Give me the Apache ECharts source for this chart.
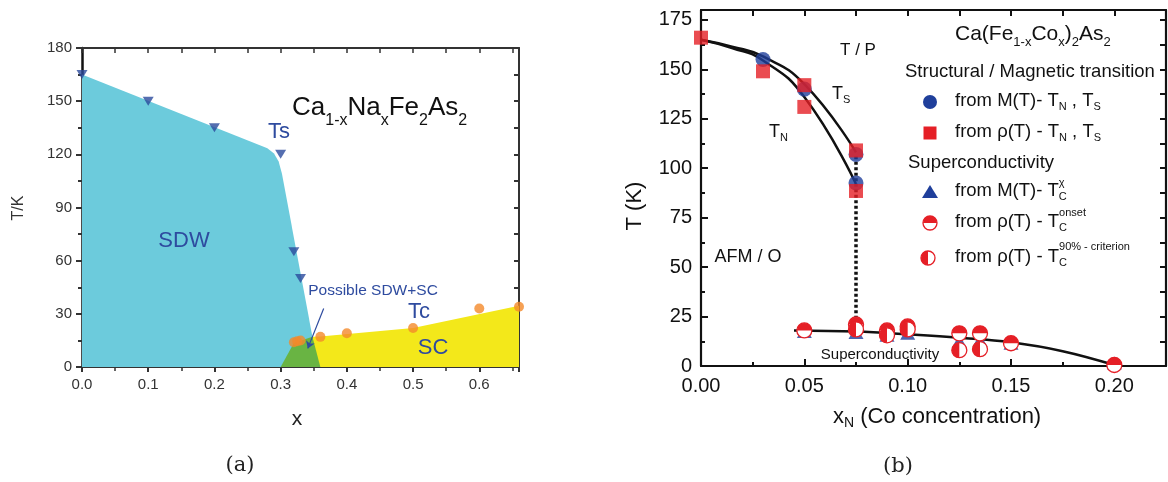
<!DOCTYPE html>
<html><head><meta charset="utf-8">
<script src="https://cdn.jsdelivr.net/npm/echarts@6/dist/echarts.min.js"></script>
<style>html,body{margin:0;padding:0;background:#fff}#c{width:1168px;height:482px}</style>
</head><body><div id="c"></div><script>
// ---------- Panel (a): Ca1-xNaxFe2As2 ----------
const aTsX = [0, 0.1, 0.2, 0.3, 0.32, 0.33];
const aTsT = [165, 150, 135, 120, 65, 50];
const aTcX = [0.32, 0.325, 0.33, 0.36, 0.4, 0.5, 0.6, 0.66];
const aTcT = [14, 14.5, 15, 17, 19, 22, 33, 34];
const aSdwX = [0, 0.28, 0.29, 0.297, 0.302, 0.348];
const aSdwT = [165, 123.5, 120.5, 116, 109, 17];
const aScX = [0.348, 0.36, 0.5, 0.66];
const aScT = [17, 17.2, 22, 34.5];
const aMixX = [0.30, 0.32, 0.348, 0.36];
const aMixT = [0, 13.5, 17, 0];
const aArrowFrom = [0.365, 33];
const aArrowTo = [0.341, 10.5];
const aXTicks = [0, 0.1, 0.2, 0.3, 0.4, 0.5, 0.6];
const aYTicks = [0, 30, 60, 90, 120, 150, 180];

// ---------- Panel (b): Ca(Fe1-xCox)2As2 ----------
const bMagX = [0.03, 0.05, 0.075, 0.075];
const bMagT = [155, 140, 107, 92.5];
const bResX = [0, 0.03, 0.05, 0.05, 0.075, 0.075];
const bResT = [166, 149, 142, 131, 109, 88.5];
const bTsCurveX = [0, 0.015, 0.03, 0.05, 0.075];
const bTsCurveT = [165, 161.5, 156.5, 142.5, 108];
const bTnCurveX = [0, 0.015, 0.03, 0.05, 0.075];
const bTnCurveT = [165, 160.8, 154.5, 136, 92];
const bDotX = [0.075, 0.075];
const bDotT = [106, 24];
const bScCurveX = [0.045, 0.075, 0.1, 0.125, 0.15, 0.175, 0.2];
const bScCurveT = [18, 17.4, 16, 14.3, 12, 7.5, 0.5];
const bTcChiX = [0.05, 0.075, 0.09, 0.1, 0.125, 0.135, 0.15, 0.2];
const bTcChiT = [17.5, 17, 15.5, 16.5, 12.5, 13, 11.5, 1.5];
const bTcOnX = [0.05, 0.075, 0.09, 0.1, 0.125, 0.135, 0.15, 0.2];
const bTcOnT = [18, 21, 18, 20, 16.5, 16.5, 11.5, 0.5];
const bTc90X = [0.075, 0.09, 0.1, 0.125, 0.135];
const bTc90T = [18.5, 15.5, 18.5, 8, 8.5];
const bXTicks = [0, 0.05, 0.1, 0.15, 0.2];
const bYTicks = [0, 25, 50, 75, 100, 125, 150, 175];

const zip = (xs, ys) => xs.map((x, i) => [x, ys[i]]);
const SANS = '"Liberation Sans", Arial, sans-serif';
const SERIF = '"DejaVu Serif", serif';
const CYAN = '#6ccbdc', YEL = '#f3e81a', GRN = '#69b443', TBLUE = '#2e4b9f', ORG = '#f4892a';
const RED = '#e51f26', BLUE = '#1f3f9b', INK = '#111';

const chart = echarts.init(document.getElementById('c'), null, {renderer: 'canvas'});

const ctx = document.createElement('canvas').getContext('2d');
function tw(s, size) { ctx.font = size + 'px "Liberation Sans"'; return ctx.measureText(s).width; }

function txt(x, y, text, size, color, o = {}) {
  return {
    type: 'text', x, y, rotation: o.rot || 0, silent: true, z: 100,
    style: {
      text, fontSize: size, fontFamily: o.family || SANS, fill: color,
      align: o.align || 'center', verticalAlign: o.va || 'middle',
      textAlign: o.align || 'center', textVerticalAlign: o.va || 'middle',
      rich: o.rich
    }
  };
}
function subRich(main, sub, color, subPad) {
  return {
    m: {fontSize: main, fontFamily: SANS, fill: color, color, lineHeight: main + 3, verticalAlign: 'top'},
    s: {fontSize: sub, fontFamily: SANS, fill: color, color, lineHeight: sub, verticalAlign: 'top', padding: [subPad, 0, 0, 0]}
  };
}

function halfRender(startA, endA, r) {
  return function (params, api) {
    const p = api.coord([api.value(0), api.value(1)]);
    return {type: 'group', children: [
      {type: 'circle', shape: {cx: p[0], cy: p[1], r}, style: {fill: '#fff', stroke: RED, lineWidth: 1.3}},
      {type: 'sector', shape: {cx: p[0], cy: p[1], r0: 0, r: r, startAngle: startA, endAngle: endA, clockwise: true}, style: {fill: RED}}
    ]};
  };
}

const legendX = 930, legTextX = 955;
const rowY = [102, 133, 192, 223, 258];
const LS = 18.5;
const graphics = [
  // panel (a) texts
  txt(19, 208, 'T/K', 16, '#333', {rot: Math.PI / 2}),
  txt(297, 419, 'x', 21, '#222'),
  txt(292, 109, '{m|Ca}{s|1-x}{m|Na}{s|x}{m|Fe}{s|2}{m|As}{s|2}', 26, INK,
      {align: 'left', rich: subRich(26, 16, INK, 18)}),
  txt(279, 132, 'Ts', 22, TBLUE),
  txt(184, 241, 'SDW', 22, TBLUE),
  txt(419, 312, 'Tc', 22, TBLUE),
  txt(433, 348, 'SC', 22, TBLUE),
  txt(373, 291, 'Possible SDW+SC', 15.5, TBLUE),
  txt(240, 466, '(a)', 21, '#222', {family: SERIF}),
  // panel (b) axis titles
  txt(635, 206, 'T (K)', 22, INK, {rot: Math.PI / 2}),
  txt(833, 418, '{m|x}{s|N}{m| (Co concentration)}', 22, INK, {align: 'left', rich: subRich(22, 14, INK, 11)}),
  txt(898, 467, '(b)', 21, '#222', {family: SERIF}),
  // panel (b) in-plot labels
  txt(858, 50, 'T / P', 17, INK),
  txt(832, 96, '{m|T}{s|S}', 18, INK, {align: 'left', rich: subRich(18, 11, INK, 9)}),
  txt(769, 134, '{m|T}{s|N}', 18, INK, {align: 'left', rich: subRich(18, 11, INK, 9)}),
  txt(748, 257, 'AFM / O', 18, INK),
  txt(880, 355, 'Superconductivity', 15, INK),
  // panel (b) legend block
  txt(955, 36, '{m|Ca(Fe}{s|1-x}{m|Co}{s|x}{m|)}{s|2}{m|As}{s|2}', 21, INK, {align: 'left', rich: subRich(21, 13, INK, 12)}),
  txt(905, 72, 'Structural / Magnetic transition', 18.5, INK, {align: 'left'}),
  txt(908, 163, 'Superconductivity', 18.5, INK, {align: 'left'}),
  {type: 'circle', shape: {cx: legendX, cy: rowY[0], r: 7}, style: {fill: BLUE}, silent: true},
  {type: 'rect', shape: {x: legendX - 6.5, y: rowY[1] - 6.5, width: 13, height: 13}, style: {fill: RED}, silent: true},
  {type: 'polygon', shape: {points: [[legendX, rowY[2] - 7], [legendX + 8, rowY[2] + 6], [legendX - 8, rowY[2] + 6]]}, style: {fill: BLUE}, silent: true},
  {type: 'circle', shape: {cx: legendX, cy: rowY[3], r: 7}, style: {fill: '#fff', stroke: RED, lineWidth: 1.3}, silent: true},
  {type: 'sector', shape: {cx: legendX, cy: rowY[3], r0: 0, r: 7, startAngle: Math.PI, endAngle: 2 * Math.PI}, style: {fill: RED}, silent: true},
  {type: 'circle', shape: {cx: legendX - 2, cy: rowY[4], r: 7}, style: {fill: '#fff', stroke: RED, lineWidth: 1.3}, silent: true},
  {type: 'sector', shape: {cx: legendX - 2, cy: rowY[4], r0: 0, r: 7, startAngle: Math.PI / 2, endAngle: 3 * Math.PI / 2}, style: {fill: RED}, silent: true},
  txt(legTextX, rowY[0], '{m|from M(T)- T}{s|N}{m| , T}{s|S}', LS, INK, {align: 'left', rich: subRich(LS, 11, INK, 10)}),
  txt(legTextX, rowY[1], '{m|from ρ(T) - T}{s|N}{m| , T}{s|S}', LS, INK, {align: 'left', rich: subRich(LS, 11, INK, 10)}),
  txt(legTextX, rowY[2], '{m|from M(T)- T}{s|C}', LS, INK, {align: 'left', rich: subRich(LS, 11, INK, 10)}),
  txt(legTextX, rowY[3], '{m|from ρ(T) - T}{s|C}', LS, INK, {align: 'left', rich: subRich(LS, 11, INK, 10)}),
  txt(legTextX, rowY[4], '{m|from ρ(T) - T}{s|C}', LS, INK, {align: 'left', rich: subRich(LS, 11, INK, 10)}),
  txt(legTextX + tw('from M(T)- T', LS), rowY[2] - 9, 'χ', 11, INK, {align: 'left'}),
  txt(legTextX + tw('from ρ(T) - T', LS), rowY[3] - 10, 'onset', 11, INK, {align: 'left'}),
  txt(legTextX + tw('from ρ(T) - T', LS), rowY[4] - 11, '90% - criterion', 11, INK, {align: 'left'})
];

const axLine = (w, c) => ({show: true, onZero: false, lineStyle: {color: c, width: w}});
const option = {
  animation: false,
  backgroundColor: '#fff',
  grid: [
    {left: 82, top: 48, width: 437, height: 319},
    {left: 701, top: 10, width: 465, height: 356}
  ],
  xAxis: [
    {type: 'value', gridIndex: 0, min: 0, max: 0.66, interval: 0.1, position: 'bottom',
     axisLine: axLine(2, '#333'), axisTick: {show: true, length: 5, lineStyle: {width: 2, color: '#333'}},
     minorTick: {show: true, splitNumber: 2, length: 4, lineStyle: {width: 1.5, color: '#333'}},
     axisLabel: {showMaxLabel: false, fontSize: 15, color: '#333', fontFamily: SANS, margin: 10,
       formatter: v => aXTicks.some(t => Math.abs(t - v) < 1e-9) ? v.toFixed(1) : ''},
     splitLine: {show: false}},
    {type: 'value', gridIndex: 0, min: 0, max: 0.66, interval: 0.05, position: 'top',
     axisLine: axLine(2, '#333'), axisTick: {show: true, inside: true, length: 5, lineStyle: {width: 1.5, color: '#333'}},
     axisLabel: {show: false}, splitLine: {show: false}},
    {type: 'value', gridIndex: 1, min: 0, max: 0.225, interval: 0.05, position: 'bottom',
     axisLine: axLine(2.2, INK), axisTick: {show: true, inside: true, length: 7, lineStyle: {width: 2, color: INK}},
     minorTick: {show: true, splitNumber: 2, length: 4, lineStyle: {width: 2, color: INK}},
     axisLabel: {showMaxLabel: false, fontSize: 20, color: INK, fontFamily: SANS, margin: 10,
       formatter: v => bXTicks.some(t => Math.abs(t - v) < 1e-9) ? v.toFixed(2) : ''},
     splitLine: {show: false}},
    {type: 'value', gridIndex: 1, min: 0, max: 0.225, interval: 0.025, position: 'top',
     axisLine: axLine(2.2, INK), axisTick: {show: true, inside: true, length: 6, lineStyle: {width: 2, color: INK}},
     axisLabel: {show: false}, splitLine: {show: false}}
  ],
  yAxis: [
    {type: 'value', gridIndex: 0, min: 0, max: 180, interval: 30, position: 'left',
     axisLine: axLine(2.5, '#111'), axisTick: {show: true, length: 6, lineStyle: {width: 2, color: '#333'}},
     minorTick: {show: true, splitNumber: 2, length: 4, lineStyle: {width: 2, color: '#333'}},
     axisLabel: {fontSize: 15, color: '#333', fontFamily: SANS, margin: 10,
       formatter: v => aYTicks.includes(v) ? String(v) : ''},
     splitLine: {show: false}},
    {type: 'value', gridIndex: 0, min: 0, max: 180, interval: 15, position: 'right',
     axisLine: axLine(2, '#333'), axisTick: {show: true, inside: true, length: 5, lineStyle: {width: 2, color: '#333'}},
     axisLabel: {show: false}, splitLine: {show: false}},
    {type: 'value', gridIndex: 1, min: 0, max: 180, interval: 25, position: 'left',
     axisLine: axLine(2.2, INK), axisTick: {show: true, inside: true, length: 7, lineStyle: {width: 2, color: INK}},
     minorTick: {show: true, splitNumber: 2, length: 4, lineStyle: {width: 2, color: INK}},
     axisLabel: {showMaxLabel: false, fontSize: 20, color: INK, fontFamily: SANS, margin: 9,
       formatter: v => bYTicks.includes(v) ? String(v) : ''},
     splitLine: {show: false}},
    {type: 'value', gridIndex: 1, min: 0, max: 180, interval: 12.5, position: 'right',
     axisLine: axLine(2.2, INK), axisTick: {show: true, inside: true, length: 6, lineStyle: {width: 2, color: INK}},
     axisLabel: {show: false}, splitLine: {show: false}}
  ],
  series: [
    // ---- panel (a) regions
    {type: 'line', xAxisIndex: 0, yAxisIndex: 0, data: zip(aSdwX, aSdwT), symbol: 'none',
     lineStyle: {width: 0, opacity: 0}, areaStyle: {color: CYAN, opacity: 1}, z: 1},
    {type: 'line', xAxisIndex: 0, yAxisIndex: 0, data: zip(aScX, aScT), symbol: 'none',
     lineStyle: {width: 0, opacity: 0}, areaStyle: {color: YEL, opacity: 1}, z: 1},
    {type: 'line', xAxisIndex: 0, yAxisIndex: 0, data: zip(aMixX, aMixT), symbol: 'none',
     lineStyle: {width: 0, opacity: 0}, areaStyle: {color: GRN, opacity: 1}, z: 2},
    {type: 'scatter', xAxisIndex: 0, yAxisIndex: 0, data: zip(aTsX, aTsT), symbol: 'triangle', symbolRotate: 180,
     symbolSize: [11, 9], itemStyle: {color: '#2b4a9c'}, z: 5},
    {type: 'scatter', xAxisIndex: 0, yAxisIndex: 0, data: zip(aTcX, aTcT), symbol: 'circle',
     symbolSize: 10, itemStyle: {color: ORG}, z: 5,
     markLine: {silent: true, symbol: ['none', 'arrow'], symbolSize: 7, label: {show: false},
       lineStyle: {color: TBLUE, width: 1.2, type: 'solid'},
       data: [[{coord: aArrowFrom}, {coord: aArrowTo}]]}},
    // ---- panel (b)
    {type: 'line', xAxisIndex: 2, yAxisIndex: 2, data: zip(bTsCurveX, bTsCurveT), smooth: 0.5, symbol: 'none',
     lineStyle: {color: INK, width: 2.5}, z: 2},
    {type: 'line', xAxisIndex: 2, yAxisIndex: 2, data: zip(bTnCurveX, bTnCurveT), smooth: 0.5, symbol: 'none',
     lineStyle: {color: INK, width: 2.5}, z: 2},
    {type: 'line', xAxisIndex: 2, yAxisIndex: 2, data: zip(bDotX, bDotT), symbol: 'none',
     lineStyle: {color: INK, width: 3.5, type: [3, 2.5]}, z: 2},
    {type: 'line', xAxisIndex: 2, yAxisIndex: 2, data: zip(bScCurveX, bScCurveT), smooth: 0.4, symbol: 'none',
     lineStyle: {color: INK, width: 2.5}, z: 2},
    {type: 'scatter', xAxisIndex: 2, yAxisIndex: 2, data: zip(bMagX, bMagT), symbol: 'circle', symbolSize: 15,
     itemStyle: {color: BLUE}, z: 3},
    {type: 'scatter', xAxisIndex: 2, yAxisIndex: 2, data: zip(bResX, bResT), symbol: 'rect', symbolSize: 14,
     itemStyle: {color: RED}, z: 4},
    {type: 'scatter', xAxisIndex: 2, yAxisIndex: 2, data: zip(bTcChiX, bTcChiT), symbol: 'triangle', symbolSize: [15, 13],
     itemStyle: {color: BLUE}, z: 5},
    {type: 'custom', xAxisIndex: 2, yAxisIndex: 2, coordinateSystem: 'cartesian2d', data: zip(bTcOnX, bTcOnT),
     renderItem: halfRender(Math.PI, 2 * Math.PI, 7.5), z: 6},
    {type: 'custom', xAxisIndex: 2, yAxisIndex: 2, coordinateSystem: 'cartesian2d', data: zip(bTc90X, bTc90T),
     renderItem: halfRender(Math.PI / 2, 3 * Math.PI / 2, 7.5), z: 7}
  ],
  graphic: {elements: graphics}
};
chart.setOption(option);
</script></body></html>
